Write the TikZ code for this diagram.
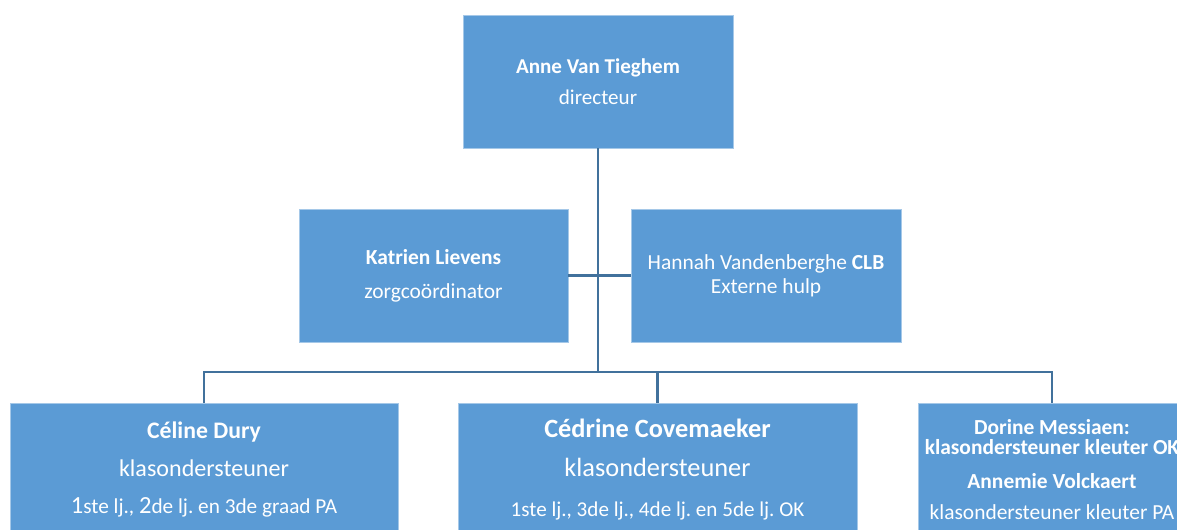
\documentclass[tikz,border=0pt]{standalone}
\usepackage{fontspec}
\setmainfont{Carlito}
\usepackage{tikz}
\usetikzlibrary{positioning}
\definecolor{boxblue}{RGB}{91, 155, 213}
\definecolor{linkblue}{RGB}{65, 113, 156}
\frenchspacing

\begin{document}
\begin{tikzpicture}[
    member/.style={draw=boxblue!55!white, line width=0.4pt, fill=boxblue, text=white, align=center, inner sep=0pt},
    link/.style={draw=linkblue, line width=1.3pt}
]
\useasboundingbox (0,0) rectangle (23.54,-10.6);

% Directie
\node[member, minimum width=5.4cm, minimum height=2.66cm, font=\fontsize{12}{17.8}\selectfont] (dir) at (11.96, -1.63)
    {\textbf{Anne Van Tieghem}\\directeur};

% Zorg en CLB
\node[member, minimum width=5.38cm, minimum height=2.66cm, font=\fontsize{12.2}{19.4}\selectfont] (zorg) at (8.67, -5.51)
    {\textbf{Katrien Lievens}\\zorgcoördinator};
\node[member, minimum width=5.4cm, minimum height=2.66cm, font=\fontsize{12.2}{13.8}\selectfont] (clb) at (15.32, -5.51)
    {Hannah Vandenberghe \textbf{CLB}\\Externe hulp};

% Klasondersteuners
\node[member, minimum width=7.76cm, minimum height=2.66cm, font=\fontsize{12.1}{21}\selectfont] (kl1) at (4.08, -9.39)
    {{\fontsize{13.5}{15}\selectfont\textbf{Céline Dury}}\\[0.5pt]
     {\fontsize{13.7}{16}\selectfont klasondersteuner}\\
     {\fontsize{14}{15}\selectfont 1}ste lj., {\fontsize{14}{15}\selectfont 2}de lj. en 3de graad PA};
\node[member, minimum width=7.98cm, minimum height=2.66cm, font=\fontsize{12}{22.5}\selectfont] (kl2) at (13.15, -9.39)
    {{\fontsize{15}{17}\selectfont\textbf{Cédrine Covemaeker}}\\
     {\fontsize{15}{17}\selectfont klasondersteuner}\\
     1ste lj., 3de lj., 4de lj. en 5de lj. OK};
\node[member, minimum width=5.36cm, minimum height=2.66cm, font=\fontsize{12.2}{11.4}\selectfont] (kl3) at (21.04, -9.39)
    {\textbf{Dorine Messiaen:}\\
     \textbf{klasondersteuner kleuter OK}\\[8.2pt]
     \textbf{Annemie Volckaert}\\[6.2pt]
     klasondersteuner kleuter PA};

% Verbindingen
\coordinate (hub) at (11.96, -7.44);
\draw[link] (dir) -- (hub);
\draw[link] (zorg) -- (clb);
\draw[link] (kl1.north) -- ++(0,0.62) -| (kl3.north);
\draw[link] (kl2.north) -- ++(0,0.62);

\end{tikzpicture}
\end{document}
